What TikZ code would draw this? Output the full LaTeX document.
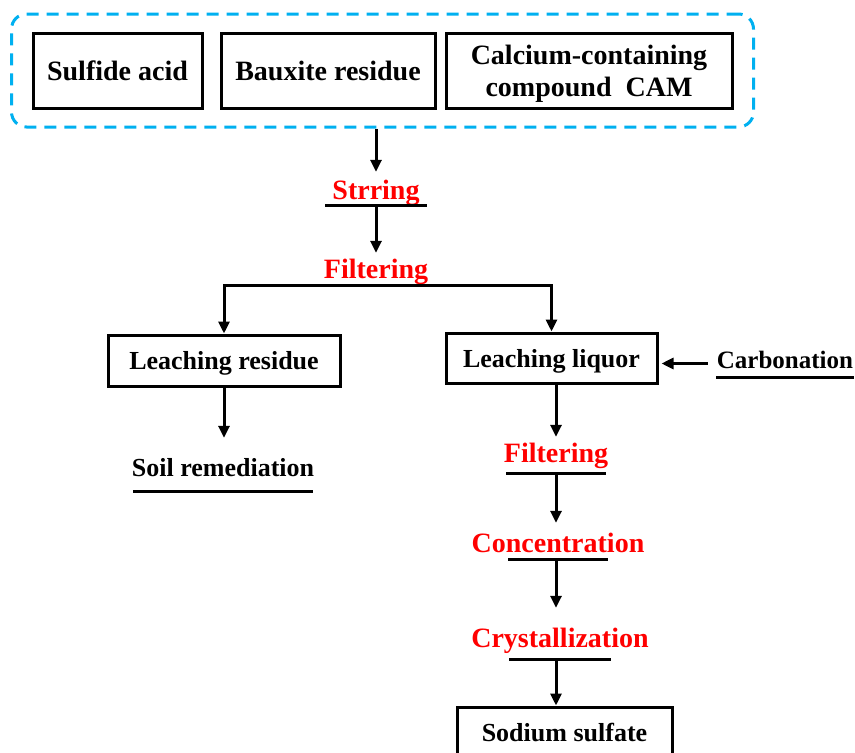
\documentclass[tikz,border=0pt]{standalone}
\usepackage{fontspec}
\setmainfont{Liberation Serif}
\usetikzlibrary{positioning,arrows.meta,fit,calc}
\definecolor{groupblue}{RGB}{0,176,240}
\definecolor{stepred}{RGB}{255,0,0}
\tikzset{
  material/.style={draw=black,line width=3pt,minimum height=50pt,align=center,inner sep=0pt,text depth=0pt,font=\fontsize{26}{30}\selectfont\bfseries},
  rawmat/.style={material,minimum height=75pt,font=\fontsize{28}{32}\selectfont\bfseries},
  stepname/.style={inner sep=0pt,text height=19pt,text depth=7pt,text=stepred,font=\fontsize{28}{32}\selectfont\bfseries},
  product/.style={inner sep=0pt,text height=18pt,text depth=7pt,font=\fontsize{26}{30}\selectfont\bfseries},
  flow/.style={-{Triangle[length=12pt,width=11pt]},line width=3pt,draw=black},
  bar/.style={line width=3pt,draw=black},
  group/.style={draw=groupblue,line width=3pt,dash pattern=on 12pt off 8pt,rounded corners=15pt,inner xsep=20pt,inner ysep=17.5pt}
}

\begin{document}
\begin{tikzpicture}[x=1pt,y=-1pt]
\useasboundingbox (0,0) rectangle (855,753);
% raw materials
\node[rawmat,minimum width=169pt] (sa) at (117.5,70.5) {Sulfide acid};
\node[rawmat,minimum width=214pt] (br) at (328,70.5) {Bauxite residue};
\node[rawmat,minimum width=286pt] (cc) at (589,70.5) {Calcium-containing\\compound~~CAM};
\node[group,fit=(sa)(br)(cc)] (grp) {};

% steps
\node[stepname,anchor=base,text depth=6pt] (str) at (376,199) {Strring};
\node[stepname,anchor=base] (fil1) at (376,278) {Filtering};
\node[material,minimum width=232pt,minimum height=51pt] (res) at (224,360.5) {Leaching residue};
\node[material,minimum width=211pt] (liq) at (551.5,358) {Leaching liquor};
\node[product,anchor=base,text depth=9pt,inner xsep=9pt,font=\fontsize{25}{30}\selectfont\bfseries] (carb) at (785,368) {Carbonation};
\node[product,anchor=base,text depth=15pt] (soil) at (223,476) {Soil remediation};
\node[stepname,anchor=base,text depth=11pt] (fil2) at (556,462) {Filtering};
\node[stepname,anchor=base] (conc) at (558,552) {Concentration};
\node[stepname,anchor=base,text depth=12pt] (cry) at (560,647) {Crystallization};
\node[material,minimum width=215pt] (ss) at (564.5,732) {Sodium sulfate};

% underlines
\draw[bar] ([xshift=-51pt]str.south) -- ([xshift=51pt]str.south);
\draw[bar] ([xshift=-69pt]carb.south) -- ([xshift=69pt]carb.south);
\draw[bar] ([xshift=-90pt]soil.south) -- ([xshift=90pt]soil.south);
\draw[bar] ([xshift=-50pt]fil2.south) -- ([xshift=50pt]fil2.south);
\draw[bar] ([xshift=-50pt]conc.south) -- ([xshift=50pt]conc.south);
\draw[bar] ([xshift=-51pt]cry.south) -- ([xshift=51pt]cry.south);

% arrows
\draw[flow,shorten >=8pt] (grp.south -| str.north) -- (str.north);
\draw[flow,shorten >=6pt] (str.south) -- (fil1.north);
\draw[flow,{Triangle[length=12pt,width=11pt]}-{Triangle[length=12pt,width=11pt]}] (res.north) |- (fil1.south) -| (liq.north);
\draw[flow,shorten >=3pt] (carb.west) -- (carb.west -| liq.east);
\draw[flow,shorten >=20pt] (res.south) -- (soil.north -| res.south);
\draw[flow,shorten >=6pt] (liq.south -| fil2.north) -- (fil2.north);
\draw[flow,shorten >=10pt] (fil2.south) -- (fil2.south |- conc.north);
\draw[flow,shorten >=20pt] (conc.south -| fil2.south) -- (fil2.south |- cry.north);
\draw[flow] (cry.south -| fil2.south) -- (fil2.south |- ss.north);
\end{tikzpicture}
\end{document}
